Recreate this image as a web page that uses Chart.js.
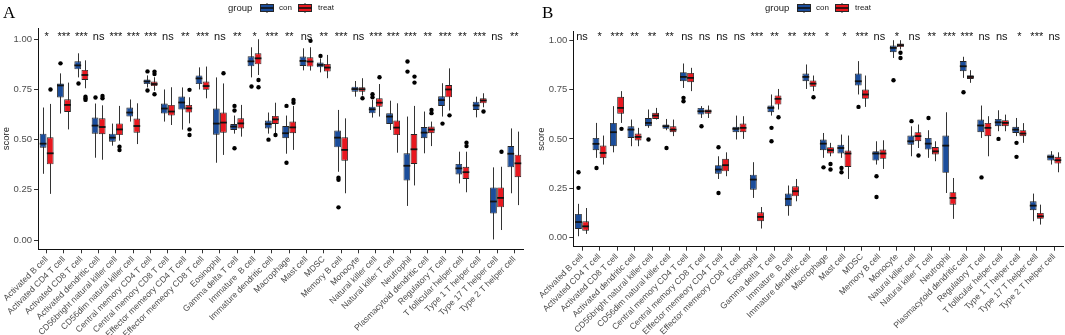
<!DOCTYPE html>
<html><head><meta charset="utf-8">
<script src="https://cdn.jsdelivr.net/npm/chart.js@4.4.1/dist/chart.umd.min.js"></script>
<style>
body{margin:0;background:#fff;width:1065px;height:335px;overflow:hidden;position:relative;}
canvas{position:absolute;top:0;}
</style></head><body>
<canvas id="cA" width="532" height="335" style="left:0px"></canvas>
<canvas id="cB" width="533" height="335" style="left:532px"></canvas>
<script>
// ---------------- DATA ----------------
const categories = ["Activated B cell","Activated CD4 T cell","Activated CD8 T cell","Activated dendritic cell",
"CD56bright natural killer cell","CD56dim natural killer cell","Central memory CD4 T cell","Central memory CD8 T cell",
"Effector memeory CD4 T cell","Effector memeory CD8 T cell","Eosinophil","Gamma delta T cell","Immature  B cell",
"Immature dendritic cell","Macrophage","Mast cell","MDSC","Memory B cell","Monocyte","Natural killer cell",
"Natural killer T cell","Neutrophil","Plasmacytoid dendritic cell","Regulatory T cell","T follicular helper cell",
"Type 1 T helper cell","Type 17 T helper cell","Type 2 T helper cell"];
const groups = ["con","treat"];
const yTicks = [0, 0.25, 0.5, 0.75, 1.0];

const sigA = ["*","***","***","ns","***","***","***","ns","**","***","ns","**","*","***","**","ns","**","***","ns","***","***","***","**","***","**","***","ns","**"];
const sigB = ["ns","*","***","**","**","**","ns","ns","ns","ns","***","**","**","***","*","*","***","ns","*","ns","**","***","***","ns","ns","*","***","ns"];

// each entry: [lower whisker, Q1, median, Q3, upper whisker]
const conA = [[0.33,0.46,0.48,0.53,0.66],[0.63,0.71,0.77,0.78,0.83],[0.81,0.85,0.87,0.89,0.93],[0.41,0.53,0.57,0.61,0.68],
[0.47,0.49,0.51,0.53,0.58],[0.59,0.615,0.635,0.66,0.70],[0.76,0.777,0.79,0.80,0.82],[0.59,0.63,0.655,0.68,0.75],
[0.55,0.65,0.685,0.715,0.76],[0.75,0.777,0.805,0.82,0.86],[0.385,0.525,0.58,0.655,0.81],[0.53,0.548,0.565,0.578,0.62],
[0.81,0.865,0.89,0.915,0.96],[0.53,0.556,0.578,0.595,0.635],[0.43,0.507,0.532,0.568,0.62],[0.845,0.867,0.892,0.914,0.955],
[0.835,0.86,0.872,0.884,0.905],[0.34,0.462,0.51,0.545,0.648],[0.714,0.739,0.752,0.764,0.792],[0.61,0.631,0.651,0.664,0.698],
[0.548,0.578,0.615,0.631,0.694],[0.17,0.296,0.37,0.432,0.615],[0.432,0.507,0.535,0.563,0.64],[0.615,0.668,0.697,0.716,0.781],
[0.282,0.327,0.357,0.379,0.44],[0.611,0.648,0.67,0.689,0.714],[0.003,0.132,0.192,0.262,0.362],[0.233,0.362,0.43,0.468,0.556]];
const treatA = [[0.23,0.377,0.432,0.512,0.678],[0.551,0.638,0.673,0.701,0.784],[0.756,0.797,0.822,0.847,0.895],[0.40,0.527,0.563,0.606,0.671],
[0.495,0.523,0.551,0.581,0.668],[0.478,0.535,0.568,0.605,0.681],[0.744,0.767,0.777,0.789,0.811],[0.573,0.62,0.64,0.673,0.761],
[0.581,0.635,0.656,0.673,0.711],[0.706,0.748,0.767,0.789,0.864],[0.424,0.535,0.585,0.635,0.78],[0.515,0.556,0.581,0.606,0.673],
[0.822,0.875,0.905,0.93,1.0],[0.532,0.578,0.601,0.618,0.684],[0.449,0.532,0.561,0.59,0.668],[0.844,0.864,0.889,0.91,0.96],
[0.806,0.839,0.859,0.877,0.922],[0.233,0.395,0.449,0.512,0.606],[0.72,0.739,0.751,0.761,0.806],[0.615,0.664,0.684,0.706,0.777],
[0.435,0.523,0.56,0.595,0.681],[0.272,0.379,0.452,0.528,0.668],[0.468,0.532,0.55,0.565,0.59],[0.645,0.711,0.75,0.772,0.855],
[0.238,0.304,0.338,0.365,0.44],[0.661,0.681,0.695,0.706,0.731],[0.05,0.163,0.21,0.262,0.365],[0.174,0.313,0.382,0.425,0.54]];
const conA_out = [[],[0.88],[0.78],[0.71],[],[],[0.84,0.745],[],[],[],[],[0.668,0.645,0.457],[0.765],[0.50],[0.668,0.385],[],
[0.917],[0.31,0.30,0.163],[],[0.726,0.711],[],[0.889,0.839],[],[0.58],[],[],[],[]];
const treatA_out = [[0.75],[],[0.714,0.705,0.698],[0.718,0.706],[0.465,0.448],[],[0.839,0.827,0.726],[],[0.748,0.551,0.523],[],[0.831],[],
[0.797,0.761],[0.523],[0.698,0.684],[0.992],[],[],[0.706],[0.811],[],[0.814,0.784],[0.648,0.632],[0.621],[0.485,0.468],[0.64],[0.44],[]];

const conB = [[0.007,0.044,0.079,0.12,0.171],[0.404,0.443,0.475,0.505,0.581],[0.432,0.463,0.534,0.581,0.666],[0.463,0.505,0.547,0.564,0.598],
[0.556,0.564,0.581,0.606,0.649],[0.544,0.551,0.564,0.573,0.601],[0.758,0.792,0.814,0.838,0.882],[0.606,0.623,0.64,0.657,0.666],
[0.297,0.324,0.345,0.367,0.412],[0.497,0.534,0.551,0.561,0.618],[0.201,0.243,0.294,0.319,0.382],[0.618,0.635,0.657,0.669,0.725],
[0.111,0.159,0.196,0.223,0.264],[0.753,0.792,0.814,0.831,0.877],[0.404,0.443,0.476,0.497,0.53],[0.404,0.426,0.454,0.471,0.522],
[0.725,0.77,0.792,0.831,0.894],[0.37,0.39,0.426,0.438,0.488],[0.91,0.939,0.961,0.973,1.0],[0.412,0.471,0.488,0.517,0.564],
[0.404,0.446,0.476,0.505,0.544],[0.226,0.328,0.466,0.517,0.635],[0.809,0.843,0.868,0.894,0.916],[0.505,0.534,0.568,0.598,0.669],
[0.539,0.564,0.584,0.601,0.645],[0.514,0.53,0.547,0.561,0.606],[0.083,0.139,0.162,0.184,0.223],[0.37,0.39,0.409,0.421,0.438]];
const treatB = [[0.019,0.035,0.057,0.083,0.15],[0.37,0.402,0.429,0.466,0.517],[0.581,0.628,0.657,0.713,0.742],[0.463,0.492,0.51,0.527,0.556],
[0.598,0.601,0.618,0.632,0.657],[0.514,0.534,0.547,0.564,0.598],[0.742,0.787,0.809,0.834,0.86],[0.606,0.628,0.64,0.649,0.669],
[0.311,0.336,0.367,0.399,0.432],[0.5,0.534,0.556,0.578,0.615],[0.046,0.083,0.105,0.128,0.155],[0.649,0.674,0.703,0.72,0.753],
[0.184,0.209,0.235,0.26,0.297],[0.742,0.764,0.78,0.796,0.821],[0.412,0.426,0.443,0.458,0.48],[0.297,0.358,0.426,0.441,0.517],
[0.662,0.703,0.725,0.75,0.821],[0.348,0.399,0.426,0.446,0.493],[0.953,0.965,0.975,0.983,1.0],[0.454,0.488,0.514,0.534,0.573],
[0.387,0.421,0.437,0.459,0.488],[0.095,0.167,0.201,0.23,0.302],[0.784,0.804,0.814,0.823,0.848],[0.412,0.514,0.556,0.581,0.615],
[0.539,0.564,0.581,0.595,0.623],[0.48,0.514,0.527,0.544,0.58],[0.066,0.095,0.108,0.125,0.167],[0.331,0.375,0.392,0.409,0.432]];
const conB_out = [[0.252,0.331],[0.353],[],[],[0.497],[0.454],[0.708,0.691],[0.564],[0.458,0.226],[],[],[0.556,0.488],[],[],[0.356],
[0.353,0.331],[0.662],[0.311,0.206],[0.797],[0.59],[0.606],[],[0.736],[0.305],[0.50],[0.48,0.409],[],[]];
const treatB_out = [[],[],[0.551],[],[],[],[],[],[],[],[],[0.61],[],[0.711],[0.373,0.345],[],[],[],[0.936,0.91],[0.416],[],[],[],[],[],[],[],[]];

// ---------------- STYLE ----------------
const COL = {con: '#1B4D9B', treat: '#E8181F'};
const EDGE = '#262626';
const TXT = '#4D4D4D';
const SANS = 'Liberation Sans, Arial, sans-serif';

const boxPlugin = {
  id: 'boxplot',
  beforeDatasetsDraw(chart) {
    const o = chart.options.plugins.boxplot; const ctx = chart.ctx; const ys = chart.scales.y;
    ctx.save(); ctx.strokeStyle = '#333'; ctx.lineWidth = 1;
    o.stats.forEach((st, d) => {
      chart.getDatasetMeta(d).data.forEach((el, i) => {
        const x = Math.round(el.x) + 0.5;
        ctx.beginPath(); ctx.moveTo(x, ys.getPixelForValue(st[i][0])); ctx.lineTo(x, ys.getPixelForValue(st[i][4])); ctx.stroke();
      });
    });
    ctx.restore();
  },
  afterDatasetsDraw(chart) {
    const o = chart.options.plugins.boxplot; const ctx = chart.ctx; const ys = chart.scales.y;
    ctx.save();
    o.stats.forEach((st, d) => {
      chart.getDatasetMeta(d).data.forEach((el, i) => {
        const y = ys.getPixelForValue(st[i][2]);
        ctx.strokeStyle = '#111'; ctx.lineWidth = 1.8;
        ctx.beginPath(); ctx.moveTo(el.x - el.width/2, y); ctx.lineTo(el.x + el.width/2, y); ctx.stroke();
        ctx.fillStyle = '#000';
        o.outliers[d][i].forEach(v => {
          ctx.beginPath(); ctx.arc(Math.round(el.x)+0.5, ys.getPixelForValue(v), 2.2, 0, Math.PI*2); ctx.fill();
        });
      });
    });
    ctx.restore();
  },
  afterDraw(chart) {
    const o = chart.options.plugins.boxplot; const ctx = chart.ctx; const ys = chart.scales.y; const xs = chart.scales.x;
    ctx.save();
    ctx.fillStyle = '#111'; ctx.font = '11px ' + SANS; ctx.textAlign = 'center'; ctx.textBaseline = 'alphabetic';
    const by = ys.getPixelForValue(1.0) + 0.3;
    o.sig.forEach((s, i) => ctx.fillText(s, xs.getPixelForValue(i), by));
    ctx.font = '17px "Liberation Serif", "Times New Roman", serif'; ctx.textAlign = 'left'; ctx.fillStyle = '#000';
    ctx.fillText(o.letter, o.letterX, 18);
    const lx = o.legendX, cy = 8;
    ctx.font = '9.5px ' + SANS; ctx.fillStyle = '#1a1a1a'; ctx.textBaseline = 'middle';
    ctx.fillText('group', lx, cy);
    const keys = [{x: lx + 32, col: COL.con, t: 'con', tx: lx + 51}, {x: lx + 70, col: COL.treat, t: 'treat', tx: lx + 90}];
    keys.forEach(k => {
      ctx.strokeStyle = '#333'; ctx.lineWidth = 1;
      ctx.beginPath(); ctx.moveTo(k.x + 7, cy - 5); ctx.lineTo(k.x + 7, cy + 5); ctx.stroke();
      ctx.fillStyle = k.col; ctx.fillRect(k.x + 0.5, cy - 3.5, 13, 7);
      ctx.strokeStyle = EDGE; ctx.strokeRect(k.x + 0.5, cy - 3.5, 13, 7);
      ctx.lineWidth = 1.6; ctx.strokeStyle = '#111';
      ctx.beginPath(); ctx.moveTo(k.x + 0.5, cy); ctx.lineTo(k.x + 13.5, cy); ctx.stroke();
      ctx.fillStyle = '#1a1a1a'; ctx.font = '8px ' + SANS;
      ctx.fillText(k.t, k.tx, cy);
    });
    ctx.restore();
  }
};

function makeChart(id, con, treat, conOut, treatOut, sig, cfg) {
  const mk = (st, g) => ({
    label: g, data: st.map(s => [s[1], s[3]]), backgroundColor: COL[g], borderColor: EDGE,
    borderWidth: 0.9, borderSkipped: false, categoryPercentage: 0.82, barPercentage: 0.95
  });
  return new Chart(document.getElementById(id), {
    type: 'bar',
    data: {labels: categories, datasets: [mk(con, groups[0]), mk(treat, groups[1])]},
    options: {
      responsive: false, animation: false, devicePixelRatio: 1,
      layout: {padding: {top: cfg.top, right: cfg.right, bottom: 0, left: 0}},
      plugins: {
        legend: {display: false}, tooltip: {enabled: false},
        boxplot: {stats: [con, treat], outliers: [conOut, treatOut], sig: sig, letter: cfg.letter, letterX: cfg.letterX, legendX: cfg.legendX}
      },
      scales: {
        x: {
          type: 'category', offset: true,
          grid: {offset: false, drawOnChartArea: false, drawTicks: true, tickLength: 4, color: '#333'},
          border: {display: true, color: '#111', width: 1},
          ticks: {autoSkip: false, minRotation: 45, maxRotation: 45, padding: 1, color: TXT, font: {family: SANS, size: 8.6}},
          afterFit: s => { s.height = cfg.xh; s.paddingLeft = 0; s.paddingRight = 0; }
        },
        y: {
          type: 'linear', min: cfg.ymin, max: cfg.ymax,
          afterBuildTicks: s => { s.ticks = yTicks.map(v => ({value: v})); },
          grid: {drawOnChartArea: false, drawTicks: true, tickLength: 4, color: '#333'},
          border: {display: true, color: '#111', width: 1},
          ticks: {padding: 2, color: TXT, font: {family: SANS, size: 9.5}, callback: v => Number(v).toFixed(2)},
          title: {display: true, text: 'score', color: '#1a1a1a', font: {family: SANS, size: 9.5}, padding: {top: cfg.titlePad, bottom: 0}},
          afterFit: s => { s.width = cfg.yw; s.paddingTop = 0; s.paddingBottom = 0; }
        }
      }
    },
    plugins: [boxPlugin]
  });
}

makeChart('cA', conA, treatA, conA_out, treatA_out, sigA,
  {top: 28, right: 9, xh: 85.7, yw: 38, ymin: -0.046, ymax: 1.056, titlePad: 1, letter: 'A', letterX: 3, legendX: 228});
makeChart('cB', conB, treatB, conB_out, treatB_out, sigB,
  {top: 31.7, right: 2, xh: 88.3, yw: 41.3, ymin: -0.046, ymax: 1.043, titlePad: 3.5, letter: 'B', letterX: 10, legendX: 233});
</script>
</body></html>
